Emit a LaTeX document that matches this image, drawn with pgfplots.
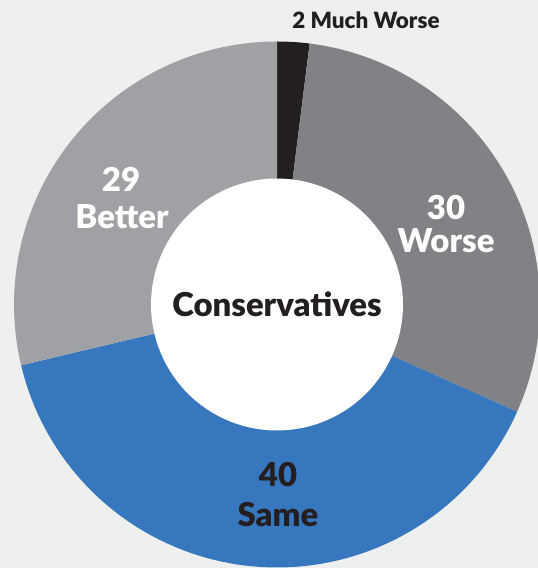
\documentclass[border=0pt]{standalone}
\usepackage{pgfplots}
\pgfplotsset{compat=1.18}
\usepackage{pgfplotstable}
\usepackage{fontspec}
\setmainfont{Lato}[BoldFont={Lato Black}]
\definecolor{bg}{HTML}{EEF0EF}
\definecolor{cMW}{HTML}{231F20}
\definecolor{cW}{HTML}{808285}
\definecolor{cS}{HTML}{3777BD}
\definecolor{cB}{HTML}{A0A1A4}
\definecolor{txt}{HTML}{231F20}
\pgfplotstableread{
label value
MuchWorse 2
Worse 30
Same 40
Better 29
}\donutdata
\pgfplotstablegetelem{0}{value}\of\donutdata\edef\vA{\pgfplotsretval}%
\pgfplotstablegetelem{1}{value}\of\donutdata\edef\vB{\pgfplotsretval}%
\pgfplotstablegetelem{2}{value}\of\donutdata\edef\vC{\pgfplotsretval}%
\pgfplotstablegetelem{3}{value}\of\donutdata\edef\vD{\pgfplotsretval}%
\pgfmathsetmacro\tot{\vA+\vB+\vC+\vD}%
\pgfmathsetmacro\aA{90}%
\pgfmathsetmacro\aB{\aA-360*\vA/\tot}%
\pgfmathsetmacro\aC{\aB-360*\vB/\tot}%
\pgfmathsetmacro\aD{\aC-360*\vC/\tot}%
\pgfmathsetmacro\aE{\aD-360*\vD/\tot}%
\def\cx{277}\def\cy{263.5}\def\R{263}\def\r{126}
\begin{document}%
\begin{tikzpicture}
\begin{axis}[x=1bp,y=1bp,xmin=0,xmax=538,ymin=0,ymax=568,hide axis,
  axis background/.style={fill=bg}]
\addplot[fill=cMW,draw=none,domain=\aB:\aA,samples=20] ({\cx+\R*cos(x)},{\cy+\R*sin(x)}) -- (\cx,\cy) -- cycle;
\addplot[fill=cW,draw=none,domain=\aC:\aB,samples=80] ({\cx+\R*cos(x)},{\cy+\R*sin(x)}) -- (\cx,\cy) -- cycle;
\addplot[fill=cS,draw=none,domain=\aD:\aC,samples=100] ({\cx+\R*cos(x)},{\cy+\R*sin(x)}) -- (\cx,\cy) -- cycle;
\addplot[fill=cB,draw=none,domain=\aE:\aD,samples=80] ({\cx+\R*cos(x)},{\cy+\R*sin(x)}) -- (\cx,\cy) -- cycle;
\addplot[fill=white,draw=none,domain=0:360,samples=120] ({\cx+\r*cos(x)},{\cy+\r*sin(x)}) -- cycle;
\node[anchor=base,text=txt,font=\bfseries\fontsize{22.5}{26}\selectfont] at (axis cs:366,539) {2 Much Worse};
\node[anchor=base,text=txt,font=\bfseries\fontsize{33}{38}\selectfont] at (axis cs:277,251) {Conservatives};
\node[anchor=base,text=white,font=\bfseries\fontsize{33}{38}\selectfont] at (axis cs:121,376) {29};
\node[anchor=base,text=white,font=\bfseries\fontsize{33}{38}\selectfont] at (axis cs:122,339) {Better};
\node[anchor=base,text=white,font=\bfseries\fontsize{33}{38}\selectfont] at (axis cs:446,348) {30};
\node[anchor=base,text=white,font=\bfseries\fontsize{33}{38}\selectfont] at (axis cs:446,315) {Worse};
\node[anchor=base,text=txt,font=\bfseries\fontsize{33}{38}\selectfont] at (axis cs:278,81) {40};
\node[anchor=base,text=txt,font=\bfseries\fontsize{33}{38}\selectfont] at (axis cs:278,41) {Same};
\end{axis}
\pgfresetboundingbox
\path (current axis.south west) rectangle (current axis.north east);
\end{tikzpicture}%
\end{document}
